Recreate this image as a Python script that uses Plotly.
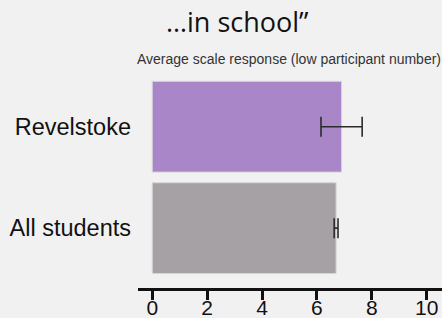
import plotly.graph_objects as go

categories = ["All students", "Revelstoke"]
values = [6.7, 6.9]
errors = [0.07, 0.75]
bar_colors = ["#A6A1A5", "#A886C8"]
x_ticks = [0, 2, 4, 6, 8, 10]
title_text = "…in school”"
subtitle_text = "Average scale response (low participant number)"

fig = go.Figure()
fig.add_trace(go.Bar(
    y=categories, x=values, orientation="h",
    marker=dict(color=bar_colors, line=dict(color="#D8D4D8", width=1)),
    error_x=dict(type="data", array=errors, visible=True, color="#2b2b2b",
                 thickness=1.6, width=10),
))

fig.update_layout(
    width=442, height=318,
    paper_bgcolor="#F1F1F1", plot_bgcolor="#F1F1F1",
    margin=dict(l=138, r=0, t=76, b=30),
    bargap=0.105,
    showlegend=False,
    font=dict(family="Liberation Sans, Arial", color="#111111"),
    xaxis=dict(range=[-0.52, 10.56], tickvals=x_ticks, showgrid=False, zeroline=False,
               showline=True, linecolor="#111111", linewidth=3, automargin=False,
               ticks="outside", ticklen=9, tickwidth=3, tickcolor="#111111",
               ticklabelstandoff=-10,
               tickfont=dict(size=21, color="#111111")),
    yaxis=dict(range=[-0.59, 1.5], showgrid=False, zeroline=False, showline=False,
               automargin=False,
               ticks="", ticklabelstandoff=6, tickfont=dict(size=23.5, color="#111111")),
    annotations=[
        dict(text=title_text, x=237, y=22, xref="paper", yref="paper", showarrow=False,
             font=dict(family="Open Sans, Carlito, sans-serif", size=27, color="#111111"),
             xanchor="center", yanchor="middle"),
        dict(text=subtitle_text, x=0, y=0, xref="paper", yref="paper", showarrow=False,
             font=dict(family="Liberation Sans, Arial", size=14, color="#333333"),
             xanchor="left", yanchor="middle"),
    ],
)
pw = 442 - 138
ph = 318 - 76 - 30
fig.layout.annotations[0].x = (237 - 138) / pw
fig.layout.annotations[0].y = (318 - 30 - 22) / ph
fig.layout.annotations[1].x = (135 - 138) / pw
fig.layout.annotations[1].y = (318 - 30 - 59) / ph

fig.write_html("out.html", config={"displayModeBar": False},
               post_script="document.body.style.margin='0';document.body.style.overflow='hidden';document.body.style.background='#F1F1F1';")
